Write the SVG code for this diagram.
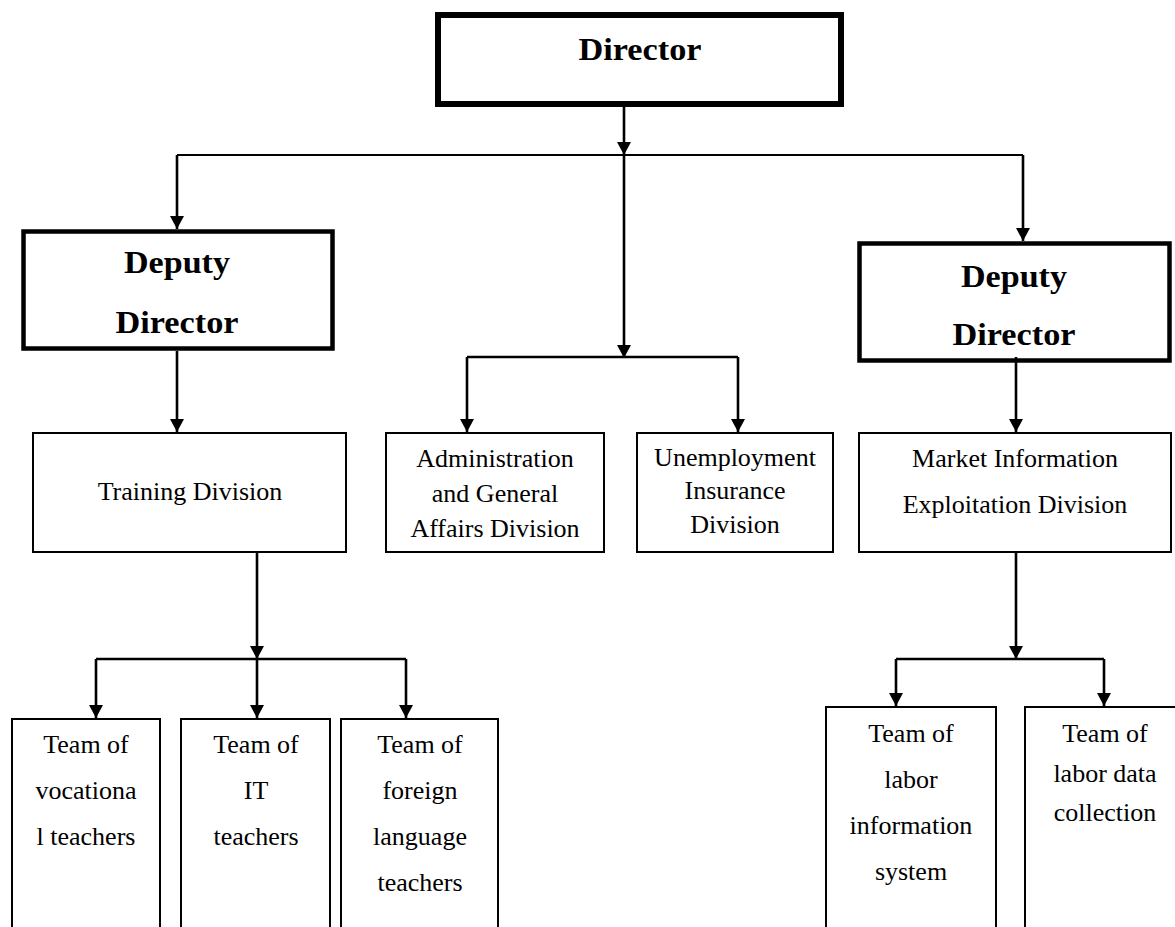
<svg xmlns="http://www.w3.org/2000/svg" width="1175" height="927" viewBox="0 0 1175 927">
<style>
.bg{fill:#fff}
.box{fill:#fff;stroke:#000;stroke-width:2}
.bx4{fill:#fff;stroke:#000;stroke-width:4.5}
.bx6{fill:#fff;stroke:#000;stroke-width:6}
.t{font-family:"Liberation Serif","Times New Roman",serif;font-size:26px;fill:#000;text-anchor:middle}
.b{font-family:"Liberation Serif","Times New Roman",serif;font-size:31px;font-weight:bold;fill:#000;text-anchor:middle}
.c{fill:none;stroke:#000;stroke-width:2.6}
.h{fill:none;stroke:#000;stroke-width:2}
</style>
<defs>
<marker id="ah" markerUnits="userSpaceOnUse" markerWidth="14" markerHeight="14" refX="13" refY="7" orient="auto">
<path d="M0,0 L13,7 L0,14 z" fill="#000"/>
</marker>
</defs>
<rect class="bg" x="0" y="0" width="1175" height="927"/>

<g id="director">
<rect class="bx6" x="438" y="15" width="403" height="89"/>
<text class="b" x="640" y="60" textLength="123" lengthAdjust="spacingAndGlyphs">Director</text>
</g>

<g id="deputy-left">
<rect class="bx4" x="23.5" y="231.5" width="309" height="117"/>
<text class="b" x="177" y="273" textLength="106" lengthAdjust="spacingAndGlyphs">Deputy</text>
<text class="b" x="177" y="333" textLength="123" lengthAdjust="spacingAndGlyphs">Director</text>
</g>

<g id="deputy-right">
<rect class="bx4" x="859.5" y="243.5" width="310" height="117"/>
<text class="b" x="1014" y="287" textLength="106" lengthAdjust="spacingAndGlyphs">Deputy</text>
<text class="b" x="1014" y="345" textLength="123" lengthAdjust="spacingAndGlyphs">Director</text>
</g>

<g id="training">
<rect class="box" x="33" y="433" width="313" height="119"/>
<text class="t" x="190" y="500">Training Division</text>
</g>

<g id="admin">
<rect class="box" x="386" y="433" width="218" height="119"/>
<text class="t" x="495" y="467">Administration</text>
<text class="t" x="495" y="502">and General</text>
<text class="t" x="495" y="537">Affairs Division</text>
</g>

<g id="unemployment">
<rect class="box" x="637" y="433" width="196" height="119"/>
<text class="t" x="735" y="466">Unemployment</text>
<text class="t" x="735" y="499">Insurance</text>
<text class="t" x="735" y="533">Division</text>
</g>

<g id="market">
<rect class="box" x="859" y="433" width="312" height="119"/>
<text class="t" x="1015" y="467">Market Information</text>
<text class="t" x="1015" y="513">Exploitation Division</text>
</g>

<g id="team-vocational">
<rect class="box" x="12" y="719" width="148" height="260"/>
<text class="t" x="86" y="753">Team of</text>
<text class="t" x="86" y="799">vocationa</text>
<text class="t" x="86" y="845">l teachers</text>
</g>

<g id="team-it">
<rect class="box" x="181" y="719" width="149" height="260"/>
<text class="t" x="256" y="753">Team of</text>
<text class="t" x="256" y="799">IT</text>
<text class="t" x="256" y="845">teachers</text>
</g>

<g id="team-foreign">
<rect class="box" x="341" y="719" width="157" height="260"/>
<text class="t" x="420" y="753">Team of</text>
<text class="t" x="420" y="799">foreign</text>
<text class="t" x="420" y="845">language</text>
<text class="t" x="420" y="891">teachers</text>
</g>

<g id="team-labor-info">
<rect class="box" x="826" y="707" width="170" height="260"/>
<text class="t" x="911" y="742">Team of</text>
<text class="t" x="911" y="788">labor</text>
<text class="t" x="911" y="834">information</text>
<text class="t" x="911" y="880">system</text>
</g>

<g id="team-labor-data">
<rect class="box" x="1025" y="707" width="200" height="260"/>
<text class="t" x="1105" y="742">Team of</text>
<text class="t" x="1105" y="782">labor data</text>
<text class="t" x="1105" y="821">collection</text>
</g>

<g id="connectors">
<line class="c" x1="624" y1="107" x2="624" y2="155" marker-end="url(#ah)"/>
<line class="c" x1="624" y1="155" x2="624" y2="358" marker-end="url(#ah)"/>
<line class="h" x1="177" y1="155" x2="1023" y2="155"/>
<line class="c" x1="177" y1="155" x2="177" y2="229" marker-end="url(#ah)"/>
<line class="c" x1="1023" y1="155" x2="1023" y2="241" marker-end="url(#ah)"/>
<line class="c" x1="467" y1="357" x2="738" y2="357"/>
<line class="c" x1="467" y1="357" x2="467" y2="432" marker-end="url(#ah)"/>
<line class="c" x1="738" y1="357" x2="738" y2="432" marker-end="url(#ah)"/>
<line class="c" x1="177" y1="351" x2="177" y2="432" marker-end="url(#ah)"/>
<line class="c" x1="1016" y1="357" x2="1016" y2="432" marker-end="url(#ah)"/>
<line class="c" x1="257" y1="553" x2="257" y2="659" marker-end="url(#ah)"/>
<line class="c" x1="96" y1="659" x2="406" y2="659"/>
<line class="c" x1="96" y1="659" x2="96" y2="718" marker-end="url(#ah)"/>
<line class="c" x1="257" y1="659" x2="257" y2="718" marker-end="url(#ah)"/>
<line class="c" x1="406" y1="659" x2="406" y2="718" marker-end="url(#ah)"/>
<line class="c" x1="1016" y1="553" x2="1016" y2="659" marker-end="url(#ah)"/>
<line class="c" x1="896" y1="659" x2="1104" y2="659"/>
<line class="c" x1="896" y1="659" x2="896" y2="706" marker-end="url(#ah)"/>
<line class="c" x1="1104" y1="659" x2="1104" y2="706" marker-end="url(#ah)"/>
</g>
</svg>
